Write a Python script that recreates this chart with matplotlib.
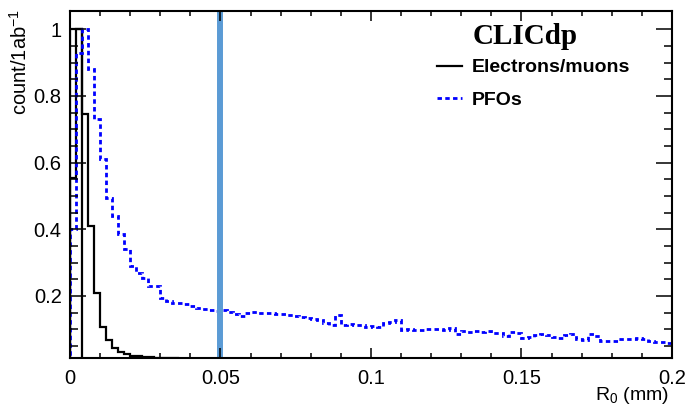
import matplotlib
matplotlib.use('Agg')
import matplotlib.pyplot as plt
import numpy as np
from matplotlib.lines import Line2D

plt.rcParams['font.family'] = ['Liberation Sans', 'DejaVu Sans']
plt.rcParams['mathtext.default'] = 'regular'

# DATA (bin width 0.002 mm, 0 - 0.2 mm)
bin_edges = np.linspace(0.0, 0.2, 101)
electrons = [1.0, 1.0, 0.745, 0.41, 0.21, 0.107, 0.068, 0.044, 0.032, 0.026,
             0.021, 0.019, 0.017, 0.016, 0.015, 0.0145, 0.014, 0.013, 0.012, 0.011] + [0.008] * 80
electrons_first = [0.555, 1.0]
pfos = [0.40, 0.93, 1.00, 0.88, 0.73, 0.61, 0.495, 0.44, 0.385, 0.34,
        0.29, 0.27, 0.255, 0.23, 0.23, 0.195, 0.185, 0.180, 0.178, 0.175,
        0.170, 0.165, 0.160, 0.158, 0.155, 0.158, 0.152, 0.145, 0.140, 0.150,
        0.152, 0.150, 0.148, 0.149, 0.146, 0.145, 0.143, 0.140, 0.136, 0.134,
        0.132, 0.128, 0.118, 0.112, 0.143, 0.113, 0.115, 0.112, 0.114, 0.108,
        0.110, 0.106, 0.120, 0.122, 0.128, 0.098, 0.100, 0.097, 0.099, 0.101,
        0.100, 0.102, 0.099, 0.104, 0.086, 0.095, 0.092, 0.094, 0.092, 0.095,
        0.090, 0.088, 0.080, 0.093, 0.090, 0.074, 0.076, 0.083, 0.085, 0.082,
        0.076, 0.074, 0.083, 0.085, 0.070, 0.068, 0.085, 0.080, 0.066, 0.064,
        0.066, 0.072, 0.070, 0.071, 0.074, 0.070, 0.066, 0.063, 0.062, 0.058]
cut_value = 0.05
x_ticks = [0, 0.05, 0.1, 0.15, 0.2]
x_ticklabels = ['0', '0.05', '0.1', '0.15', '0.2']
y_ticks = [0.2, 0.4, 0.6, 0.8, 1.0]
y_ticklabels = ['0.2', '0.4', '0.6', '0.8', '1']

pfo_dash = (0, (1.6, 1.2))

fig = plt.figure(figsize=(6.89, 4.07), dpi=100)
ax = fig.add_axes([0.1016, 0.1204, 0.8737, 0.8526])

# histograms
ax.stairs(electrons, bin_edges, color='black', lw=1.6)
ax.stairs(electrons_first, bin_edges[:3], color='black', lw=1.6)
pfo_line = ax.stairs(pfos, bin_edges, color='#0000ff', lw=2.0)
pfo_line.set_linestyle(pfo_dash)

# cut line
ax.axvline(cut_value, color='#5b9bd5', lw=4.3, zorder=1)

ax.set_xlim(0, 0.2)
ax.set_ylim(0.014, 1.055)

ax.set_xticks(x_ticks)
ax.set_xticklabels(x_ticklabels)
ax.set_xticks(np.arange(0, 0.2001, 0.01), minor=True)
ax.set_yticks(y_ticks)
ax.set_yticklabels(y_ticklabels)
ax.set_yticks(np.arange(0.05, 1.05, 0.05), minor=True)

ax.tick_params(axis='both', which='both', direction='in', top=True, right=True,
               labelsize=14.5, width=1.1)
ax.tick_params(axis='y', which='major', length=11.5, pad=6)
ax.tick_params(axis='y', which='minor', length=5.8)
ax.tick_params(axis='x', which='major', length=7, pad=8)
ax.tick_params(axis='x', which='minor', length=3.6)
for s in ax.spines.values():
    s.set_linewidth(1.5)

ax.set_xlabel(r'R$_0$ (mm)', fontsize=14, ha='right', va='top')
ax.xaxis.set_label_coords(0.995, -0.077)
ax.set_ylabel(r'count/1ab$^{-1}$', fontsize=14.5, ha='right')
ax.yaxis.set_label_coords(-0.065, 1.005)

# legend
ax.text(0.756, 0.926, 'CLICdp', transform=ax.transAxes, ha='center', va='center',
        fontsize=21, fontweight='bold', family='Liberation Serif')
handles = [Line2D([], [], color='black', lw=1.6),
           Line2D([], [], color='#0000ff', lw=2.0, linestyle=pfo_dash)]
ax.legend(handles, ['Electrons/muons', 'PFOs'], loc='upper left',
          bbox_to_anchor=(0.61, 0.862), frameon=False, borderpad=0,
          borderaxespad=0, handlelength=1.3, handletextpad=0.5, labelspacing=0.75,
          prop={'size': 14, 'weight': 'bold'})

fig.savefig('out.png', dpi=100)
